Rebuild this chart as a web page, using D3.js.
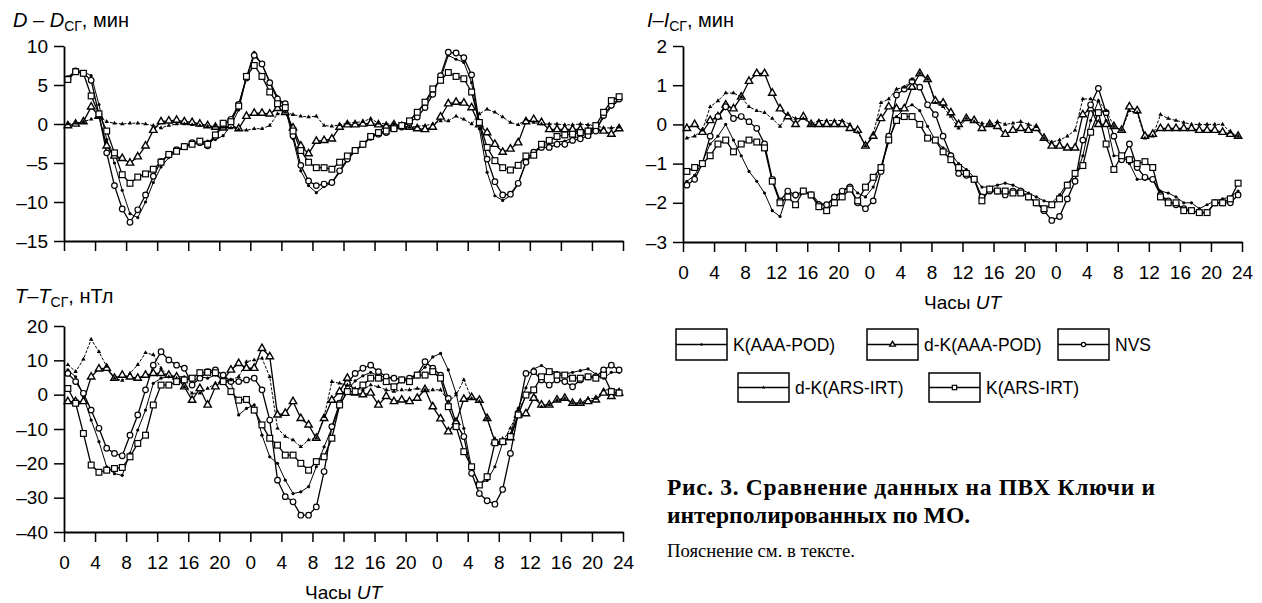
<!DOCTYPE html>
<html>
<head>
<meta charset="utf-8">
<script src="https://cdn.jsdelivr.net/npm/d3@7"></script>
<style>
  body { margin: 0; background: #fff; }
  svg { display: block; font-family: "Liberation Sans", Arial, sans-serif; }
</style>
</head>
<body>
<svg id="chart" width="1262" height="603"></svg>
<script>
// hourly means, plotted at the middle of each hour over three days
const hours = d3.range(72).map(i => i + 0.5);
const xTickValues = d3.range(0, 73, 4);
const xTickLabels = ["0", "4", "8", "12", "16", "20", "0", "4", "8", "12", "16", "20",
                     "0", "4", "8", "12", "16", "20", "24"];
const seriesNames = ["K(AAA-POD)", "d-K(AAA-POD)", "NVS", "d-K(ARS-IRT)", "K(ARS-IRT)"];

// D - D_SG, min
const dTicks = [10, 5, 0, -5, -10, -15];
const D_kAAA = [6.0, 6.9, 6.7, 6.2, 2.5, -2.0, -5.0, -8.5, -11.5, -12.0, -10.0, -7.5, -5.5, -4.3, -3.5, -3.0, -2.6, -2.3, -2.2, -2.0, -1.5, -0.2, 1.8, 6.0,
  9.2, 7.6, 5.5, 3.5, 2.0, -1.9, -6.0, -7.9, -8.8, -8.0, -7.6, -6.2, -4.7, -3.5, -2.7, -1.8, -1.3, -1.0, -0.6, -0.3, 0.5, 1.5, 2.6, 4.2,
  5.8, 8.8, 8.3, 7.9, 5.3, -0.6, -6.2, -9.2, -9.8, -9.2, -7.7, -5.0, -3.5, -2.8, -2.6, -2.3, -2.2, -1.8, -1.6, -1.2, -0.7, 0.8, 2.2, 3.0];
const D_dkAAA = [-0.2, 0.0, 0.3, 2.2, 1.0, -2.8, -4.1, -4.4, -5.0, -4.2, -2.8, -0.8, 0.3, 0.4, 0.5, 0.3, 0.2, 0.0, -0.2, -0.4, -0.5, -0.2, -0.6, 1.0,
  1.4, 1.4, 1.3, 2.0, 1.5, -0.5, -2.8, -3.8, -2.2, -2.1, -1.9, -0.4, -0.1, -0.1, 0.0, 0.1, -0.1, -0.3, -0.1, -0.3, -0.4, -0.6, -0.7, -0.4,
  0.9, 2.6, 2.8, 2.7, 2.1, -0.1, -1.1, -2.6, -3.6, -3.2, -2.4, 0.3, 0.6, 0.2, -0.7, -0.7, -0.7, -0.7, -0.7, -0.9, -0.6, -0.9, -1.3, -0.6];
const D_nvs = [5.8, 6.8, 6.5, 5.6, 1.2, -3.7, -7.9, -10.9, -12.6, -11.0, -9.1, -6.7, -4.8, -3.9, -3.3, -2.9, -2.4, -2.4, -2.8, -1.6, -0.1, 0.6, 2.5, 5.9,
  8.8, 7.7, 5.3, 3.2, 2.6, -1.5, -5.3, -7.3, -7.9, -7.7, -7.5, -6.0, -4.5, -3.4, -2.6, -1.7, -1.3, -1.1, -0.6, -0.4, 0.2, 0.9, 2.1, 3.8,
  6.2, 9.2, 9.1, 8.5, 6.3, 0.1, -4.5, -7.4, -9.1, -9.0, -7.6, -4.9, -3.6, -3.0, -3.0, -2.6, -2.6, -2.1, -1.9, -1.5, -0.9, 1.1, 2.4, 3.2];
const D_dkARS = [0.0, 0.1, 0.3, 0.6, 1.0, 0.3, 0.1, 0.0, 0.1, 0.1, 0.0, -0.2, -0.5, -0.2, 0.0, 0.0, -0.1, -0.2, -0.3, -0.3, -0.4, -0.5, -0.7, -0.8,
  -0.6, -0.6, -0.2, 1.3, 1.5, 1.2, 1.0, 0.9, 1.0, -0.2, -0.3, -0.1, 0.1, 0.2, 0.3, 0.7, 0.1, 0.0, 0.0, -0.2, -0.4, -0.3, -0.2, 0.0,
  0.4, 0.4, 1.0, 0.6, 0.0, 1.3, 1.9, 1.5, 0.9, 0.2, -0.1, 0.6, 0.2, 0.0, 0.0, 0.0, -0.1, -0.1, 0.0, -0.1, -0.2, -0.5, -0.5, -0.4];
const D_kARS = [5.7, 6.7, 6.5, 3.6, 1.3, -0.9, -3.7, -6.5, -7.6, -6.8, -6.4, -5.8, -4.9, -3.9, -3.5, -2.9, -2.6, -2.2, -2.6, -1.4, 0.1, 0.3, 2.3, 6.1,
  7.5, 6.1, 4.1, 2.6, 2.1, -0.9, -3.4, -4.9, -5.6, -5.6, -5.8, -4.9, -4.1, -3.4, -2.6, -1.6, -1.1, -0.9, -0.6, -0.2, 0.4, 1.5, 2.8, 4.5,
  5.6, 6.6, 6.1, 5.8, 4.1, 0.2, -3.0, -4.7, -5.6, -5.9, -5.3, -4.1, -4.0, -2.6, -2.1, -1.6, -1.4, -1.3, -1.1, -0.9, -0.2, 1.5, 3.0, 3.5];

// I - I_SG, min
const iTicks = [2, 1, 0, -1, -2, -3];
const I_kAAA = [-1.45, -1.3, -0.95, -0.5, -0.3, 0.0, -0.4, -0.8, -1.2, -1.45, -1.75, -2.2, -2.35, -1.75, -1.85, -1.75, -1.75, -2.0, -2.05, -1.9, -1.7, -1.55, -1.75, -1.85,
  -1.6, -1.1, -0.45, 0.2, 0.4, 0.5, 0.35, -0.05, -0.4, -0.6, -0.75, -1.0, -1.15, -1.35, -1.6, -1.6, -1.55, -1.5, -1.55, -1.65, -1.75, -1.85, -1.95, -2.0,
  -1.8, -1.5, -1.4, -0.8, 0.1, 0.6, 0.1, -0.8, -0.8, -1.0, -1.4, -1.4, -1.4, -1.7, -1.75, -1.85, -2.0, -2.0, -2.15, -2.05, -1.95, -1.9, -1.85, -1.7];
const I_dkAAA = [-0.1, 0.0, -0.2, 0.1, 0.2, 0.5, 0.4, 0.7, 1.1, 1.3, 1.3, 0.8, 0.4, 0.2, 0.0, 0.2, 0.0, 0.0, 0.0, 0.0, 0.0, -0.1, -0.15, -0.55,
  -0.3, 0.15, 0.45, 0.4, 0.4, 0.95, 1.3, 1.15, 0.6, 0.55, 0.3, 0.0, 0.15, 0.1, -0.1, 0.0, -0.05, -0.25, -0.15, -0.1, -0.15, -0.1, -0.35, -0.55,
  -0.55, -0.6, -0.6, 0.25, 0.4, 0.0, 0.0, -0.05, -0.15, 0.45, 0.35, -0.3, -0.25, -0.1, -0.1, -0.1, -0.1, -0.1, -0.15, -0.15, -0.15, -0.2, -0.25, -0.3];
const I_nvs = [-1.55, -1.4, -1.0, -0.3, 0.2, 0.45, 0.15, 0.2, 0.07, -0.1, -0.5, -1.4, -1.95, -1.7, -1.8, -1.7, -1.8, -2.05, -2.05, -1.85, -1.7, -1.6, -2.0, -2.15,
  -1.95, -1.2, -0.3, 0.75, 0.9, 1.1, 0.95, 0.5, 0.25, -0.3, -0.8, -1.25, -1.3, -1.4, -1.85, -1.7, -1.7, -1.8, -1.7, -1.7, -1.85, -2.0, -2.2, -2.45,
  -2.35, -1.9, -1.45, -0.4, 0.5, 0.92, 0.3, -0.3, -0.9, -0.5, -1.1, -1.35, -1.4, -1.8, -1.95, -2.05, -2.15, -2.2, -2.25, -2.25, -2.0, -2.0, -2.0, -1.8];
const I_dkARS = [-0.35, -0.3, -0.15, 0.45, 0.6, 0.8, 0.8, 0.7, 0.45, 0.35, 0.3, 0.15, -0.05, 0.25, 0.15, 0.15, 0.0, 0.1, 0.1, 0.1, 0.1, 0.0, -0.2, -0.55,
  -0.25, 0.55, 0.65, 0.9, 0.95, 1.15, 1.3, 1.15, 0.55, 0.45, 0.2, -0.1, 0.15, 0.07, 0.03, 0.0, 0.07, 0.0, 0.03, 0.07, 0.0, -0.06, -0.35, -0.45,
  -0.4, -0.3, -0.15, 0.65, 0.65, 0.6, 0.35, -0.05, -0.15, 0.35, 0.3, -0.35, -0.3, 0.25, 0.15, 0.1, 0.05, 0.0, 0.0, 0.0, 0.0, 0.0, -0.2, -0.3];
const I_kARS = [-1.2, -1.1, -1.0, -0.8, -0.5, -0.4, -0.7, -0.5, -0.4, -0.45, -0.6, -1.45, -2.0, -1.85, -2.05, -1.7, -1.8, -2.1, -2.2, -2.0, -1.85, -1.65, -1.95, -1.6,
  -1.35, -1.1, -0.4, 0.1, 0.2, 0.2, 0.0, -0.35, -0.4, -0.7, -0.9, -1.1, -1.25, -1.4, -1.95, -1.65, -1.7, -1.7, -1.75, -1.75, -1.85, -2.0, -2.15, -2.05,
  -1.9, -1.55, -1.25, -1.05, -0.2, 0.3, -0.5, -1.15, -0.8, -0.9, -1.0, -0.95, -1.1, -1.85, -2.0, -2.0, -2.2, -2.2, -2.25, -2.25, -2.0, -2.0, -1.9, -1.5];

// T - T_SG, nT
const tTicks = [20, 10, 0, -10, -20, -30, -40];
const T_kAAA = [7.2, 5.2, -0.6, -7.4, -13.7, -21.0, -23.0, -23.5, -17.1, -10.3, -4.5, 3.3, 4.8, 5.2, 5.2, 5.2, 3.8, 5.2, 4.8, 5.7, 4.3, 3.8, -5.9, -4.0,
  -3.0, -11.8, -18.1, -20.0, -24.9, -28.8, -28.3, -26.8, -21.0, -15.2, -9.8, -3.5, 1.4, 4.0, 5.5, 6.5, 5.5, 5.0, 4.8, 4.5, 5.0, 6.0, 8.0, 11.0,
  12.0, 7.2, 0.4, -9.8, -21.5, -25.9, -25.0, -21.0, -14.0, -11.5, -4.0, 2.0, 7.5, 8.5, 7.0, 6.5, 6.0, 6.5, 7.0, 7.5, 6.0, 4.8, 6.5, 6.5];
const T_dkAAA = [-2.0, -2.0, -2.0, 5.2, 7.5, 7.7, 4.8, 5.7, 5.2, 4.8, 5.7, 6.2, 6.2, 5.7, 5.2, 2.3, -1.6, 1.8, -3.0, 2.3, 4.3, 7.2, 9.1, 7.7,
  7.7, 13.5, 11.1, -5.9, -5.4, -2.0, -6.9, -8.8, -12.7, -6.9, -1.6, 0.9, 4.8, 0.5, 0.0, 0.5, -3.0, -0.5, -2.0, -1.5, -2.0, -1.0, 1.5, -3.5,
  -7.0, -10.8, -8.0, -1.3, -0.8, -1.6, -6.9, -13.7, -13.7, -12.5, -5.9, -5.5, -1.0, -3.0, -3.0, -1.5, -1.0, -2.5, -2.5, -2.0, -1.5, 0.5, -0.5, 0.5];
const T_nvs = [6.2, 3.8, 0.4, -4.5, -9.8, -15.6, -17.1, -17.8, -11.8, -5.9, 1.4, 8.6, 12.5, 10.1, 8.6, 7.7, 2.8, 4.8, 6.7, 7.2, 5.7, 3.8, 3.8, 4.3,
  4.8, 1.4, -7.4, -24.9, -29.7, -31.2, -35.1, -35.1, -32.7, -22.4, -9.3, -2.5, 3.3, 6.2, 7.7, 8.6, 6.7, 5.2, 4.8, 4.3, 4.8, 5.7, 9.6, 7.7,
  5.7, -1.1, -8.4, -12.2, -22.9, -28.8, -30.9, -31.9, -27.6, -17.1, -5.4, 6.2, 6.7, 4.3, 2.8, 4.3, 3.8, 2.3, 4.3, 5.2, 5.2, 7.2, 8.6, 7.2];
const T_dkARS = [8.7, 6.7, 10.3, 16.1, 12.5, 8.2, 4.8, 4.1, 6.2, 8.7, 12.2, 11.6, 7.7, 5.2, 4.8, 2.3, 0.4, 0.4, 1.8, 3.3, 3.8, 4.3, 5.2, 9.6,
  10.1, 10.6, 5.2, -9.8, -12.2, -13.2, -15.2, -13.2, -12.7, -6.4, 3.8, 3.3, 2.8, 1.8, 1.5, 2.8, 2.3, 1.4, 0.9, 1.4, 1.4, 1.8, 1.4, 1.4,
  1.4, -2.0, -0.1, 4.3, -1.1, -2.0, -6.9, -13.7, -13.7, -9.8, -4.5, -0.6, 0.9, -3.5, -3.0, -1.6, -1.1, -2.5, -2.5, -1.1, -1.1, 1.4, 1.4, 1.4];
const T_kARS = [1.8, -2.5, -11.3, -20.5, -22.6, -22.0, -21.5, -21.2, -18.1, -14.2, -11.8, -3.0, 2.8, 2.8, 3.8, 4.3, 4.8, 6.4, 6.5, 6.4, 3.8, 0.9, -1.6, -1.4,
  -4.5, -8.8, -12.7, -14.7, -17.6, -17.6, -20.0, -22.0, -19.5, -18.1, -12.7, -3.0, 0.9, 0.9, 2.8, 4.8, 4.8, 3.8, 2.3, 4.3, 3.8, 5.7, 5.7, 6.7,
  4.8, -3.5, -9.3, -16.6, -21.0, -26.3, -23.9, -14.0, -13.7, -12.2, -5.9, -0.1, 1.4, 5.2, 6.7, 5.7, 5.7, 4.8, 4.8, 5.2, 4.8, 5.7, 0.9, 0.5];

const svg = d3.select("#chart");
const fmt = v => v < 0 ? "\u2013" + Math.abs(v) : String(v);

// marker shapes for the five series (order as in seriesNames)
const styles = [
  { mark: "dot",      dash: null },
  { mark: "bigtri",   dash: null },
  { mark: "circle",   dash: null },
  { mark: "smalltri", dash: "3,1.5" },
  { mark: "square",   dash: null }
];

function tri(cx, cy, s) {
  const h = s * 0.866;
  return `M${cx},${cy - h * 2 / 3}L${cx + s / 2},${cy + h / 3}L${cx - s / 2},${cy + h / 3}Z`;
}

function marker(g, type, cx, cy, k) {
  if (type === "dot") {
    g.append("circle").attr("cx", cx).attr("cy", cy).attr("r", 1.6 * k).attr("fill", "#000");
  } else if (type === "circle") {
    g.append("circle").attr("cx", cx).attr("cy", cy).attr("r", 2.8 * k)
      .attr("fill", "#fff").attr("stroke", "#000").attr("stroke-width", 1.2);
  } else if (type === "square") {
    const s = 5.8 * k;
    g.append("rect").attr("x", cx - s / 2).attr("y", cy - s / 2).attr("width", s).attr("height", s)
      .attr("fill", "#fff").attr("stroke", "#000").attr("stroke-width", 1.2);
  } else if (type === "bigtri") {
    g.append("path").attr("d", tri(cx, cy, 7.4 * k))
      .attr("fill", "#fff").attr("stroke", "#000").attr("stroke-width", 1.4);
  } else if (type === "smalltri") {
    g.append("path").attr("d", tri(cx, cy, 4.4 * k)).attr("fill", "#000");
  }
}

function panel(cfg) {
  const x = d3.scaleLinear().domain([0, 72]).range(cfg.xr);
  const y = d3.scaleLinear().domain(cfg.dom).range(cfg.yr);
  const g = svg.append("g");

  const yAxis = g.append("g").attr("transform", `translate(${cfg.xr[0]},0)`)
    .call(d3.axisLeft(y).tickValues(cfg.ticks).tickFormat(fmt).tickSize(10).tickSizeOuter(0).tickPadding(6));
  const xAxis = g.append("g").attr("transform", `translate(0,${cfg.yr[0]})`)
    .call(d3.axisBottom(x).tickValues(xTickValues)
      .tickFormat((d, i) => cfg.xLabels ? xTickLabels[i] : "")
      .tickSize(10).tickSizeOuter(0).tickPadding(14));
  [yAxis, xAxis].forEach(a => {
    a.select(".domain").attr("stroke", "#000").attr("stroke-width", 1.8);
    a.selectAll(".tick line").attr("stroke", "#000").attr("stroke-width", 1.5);
    a.selectAll("text").attr("font-size", 19).attr("fill", "#000")
      .attr("font-family", '"Liberation Sans", Arial, sans-serif');
  });

  const line = d3.line().x((d, i) => x(hours[i])).y(d => y(d));
  cfg.series.forEach((vals, s) => {
    const st = styles[s];
    g.append("path").datum(vals).attr("d", line).attr("fill", "none")
      .attr("stroke", "#000").attr("stroke-width", s === 0 || s === 3 ? 1 : 1.3)
      .attr("stroke-dasharray", st.dash);
  });
  cfg.series.forEach((vals, s) => {
    const mg = g.append("g");
    vals.forEach((v, i) => marker(mg, styles[s].mark, x(hours[i]), y(v), 1));
  });

  // title with subscript
  const t = g.append("text").attr("x", cfg.title.x).attr("y", cfg.title.y)
    .attr("font-size", 20).attr("fill", "#000");
  t.append("tspan").attr("font-style", "italic").text(cfg.title.sym);
  t.append("tspan").text(cfg.title.dash);
  t.append("tspan").attr("font-style", "italic").text(cfg.title.sym);
  t.append("tspan").attr("font-size", 14).attr("dy", 4).text("СГ");
  t.append("tspan").attr("dy", -4).text(", " + cfg.title.unit);

  if (cfg.xLabels) {
    const c = g.append("text").attr("x", (cfg.xr[0] + cfg.xr[1]) / 2).attr("y", cfg.yr[0] + 67)
      .attr("text-anchor", "middle").attr("font-size", 19).attr("fill", "#000");
    c.append("tspan").text("Часы ");
    c.append("tspan").attr("font-style", "italic").text("UT");
  }
}

panel({ xr: [64, 623], yr: [241, 46], dom: [-15, 10], ticks: dTicks, xLabels: false,
  series: [D_kAAA, D_dkAAA, D_nvs, D_dkARS, D_kARS],
  title: { x: 13, y: 27, sym: "D", dash: " \u2013 ", unit: "мин" } });
panel({ xr: [683, 1242], yr: [242, 46], dom: [-3, 2], ticks: iTicks, xLabels: true,
  series: [I_kAAA, I_dkAAA, I_nvs, I_dkARS, I_kARS],
  title: { x: 647, y: 27, sym: "I", dash: "\u2013", unit: "мин" } });
panel({ xr: [64, 623], yr: [532, 326], dom: [-40, 20], ticks: tTicks, xLabels: true,
  series: [T_kAAA, T_dkAAA, T_nvs, T_dkARS, T_kARS],
  title: { x: 15, y: 303, sym: "T", dash: "\u2013", unit: "нТл" } });

// legend
const legendPos = [[676, 329], [867, 329], [1058, 329], [738, 373], [929, 373]];
const lg = svg.append("g");
seriesNames.forEach((name, s) => {
  const [bx, by] = legendPos[s];
  const bw = 51, bh = s < 3 ? 31 : 29;
  lg.append("rect").attr("x", bx).attr("y", by).attr("width", bw).attr("height", bh)
    .attr("fill", "#fff").attr("stroke", "#000").attr("stroke-width", 1.5);
  lg.append("line").attr("x1", bx).attr("x2", bx + bw).attr("y1", by + bh / 2).attr("y2", by + bh / 2)
    .attr("stroke", "#000").attr("stroke-width", 1.3);
  marker(lg, styles[s].mark, bx + bw / 2, by + bh / 2, 0.75);
  lg.append("text").attr("x", bx + bw + 6).attr("y", by + bh / 2 + 6.5)
    .attr("font-size", 17.5).attr("fill", "#000").text(name);
});

// caption
const cap = svg.append("g").attr("font-family", '"Liberation Serif", "Times New Roman", serif').attr("fill", "#000");
cap.append("text").attr("x", 667).attr("y", 495).attr("font-size", 23.5).attr("font-weight", "bold")
  .attr("textLength", 488).attr("lengthAdjust", "spacing")
  .text("Рис. 3. Сравнение данных на ПВХ Ключи и");
cap.append("text").attr("x", 667).attr("y", 523).attr("font-size", 23.5).attr("font-weight", "bold")
  .text("интерполированных по МО.");
cap.append("text").attr("x", 667).attr("y", 557).attr("font-size", 18)
  .attr("textLength", 188).attr("lengthAdjust", "spacingAndGlyphs")
  .text("Пояснение см. в тексте.");
</script>
</body>
</html>
